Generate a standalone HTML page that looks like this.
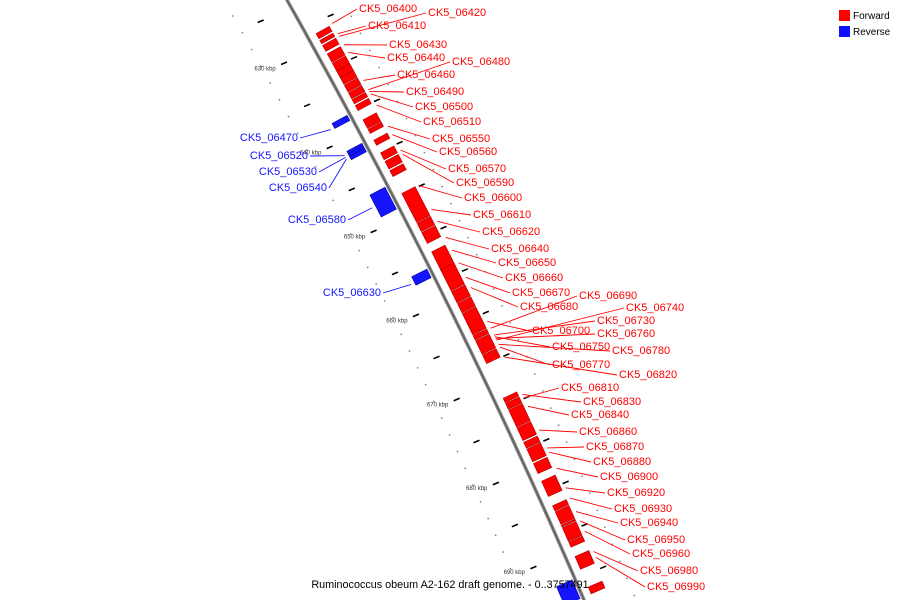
<!DOCTYPE html>
<html><head><meta charset="utf-8"><style>
html,body{margin:0;padding:0;background:#fff;width:900px;height:600px;overflow:hidden;}
svg{display:block;font-family:"Liberation Sans",sans-serif;}
</style></head><body>
<svg id="chart" width="900" height="600" viewBox="0 0 900 600">
<g id="bg"></g>
<g id="genes"></g>
<g id="labels"></g>
<g>
<rect x="839" y="10" width="11" height="11" fill="#ff0000"/>
<text x="853" y="19" font-size="10" fill="#000">Forward</text>
<rect x="839" y="26" width="11" height="11" fill="#1010ff"/>
<text x="853" y="35" font-size="10" fill="#000">Reverse</text>
</g>
<text x="450" y="588" font-size="10.8" text-anchor="middle" fill="#000">Ruminococcus obeum A2-162 draft genome. - 0..3757491</text>
</svg>
<script>
// gene extents in kbp (start, end)
const fwdStart=[626.8,627.6,628.2,629.2,630.3,631.2,632.0,632.9,633.8,634.6,635.3,637.0,638.1,639.4,640.9,641.9,643.0,645.7,649.2,650.3,652.6,654.7,657.3,658.7,659.9,662.5,663.1,664.8,669.9,670.5,671.3,673.4,675.1,675.9,677.6,679.7,682.6,683.3,684.9,685.2,686.9,688.6,692.2];
const fwdEnd=[627.4,628.0,628.9,630.2,631.2,632.0,632.8,633.7,634.5,635.1,635.9,638.0,638.6,640.0,641.7,642.8,643.7,649.1,650.2,651.6,655.0,657.2,658.6,659.8,662.4,663.0,664.7,665.8,670.4,671.2,673.3,674.9,675.8,677.4,678.8,681.5,683.2,684.8,685.1,686.8,687.5,690.1,693.0];
const revStart=[635.8,639.1,639.4,639.7,644.3,654.0,690.8];
const revEnd=[636.4,639.4,639.7,640.1,646.9,655.0,693.0];
// tick labels (kbp)
const tickKbp=[630,640,650,660,670,680,690];
// labels
const fwdNames=["CK5_06400","CK5_06420","CK5_06410","CK5_06430","CK5_06440","CK5_06480","CK5_06460","CK5_06490","CK5_06500","CK5_06510","CK5_06550","CK5_06560","CK5_06570","CK5_06590","CK5_06600","CK5_06610","CK5_06620","CK5_06640","CK5_06650","CK5_06660","CK5_06670","CK5_06690","CK5_06680","CK5_06740","CK5_06730","CK5_06700","CK5_06760","CK5_06750","CK5_06780","CK5_06770","CK5_06820","CK5_06810","CK5_06830","CK5_06840","CK5_06860","CK5_06870","CK5_06880","CK5_06900","CK5_06920","CK5_06930","CK5_06940","CK5_06950","CK5_06960","CK5_06980","CK5_06990"];
const fwdLabelX=[359,428,368,389,387,452,397,406,415,423,432,439,448,456,464,473,482,491,498,505,512,579,520,626,597,532,597,552,612,552,619,561,583,571,579,586,593,600,607,614,620,627,632,640,647];
const fwdLabelY=[8,12,25,44,57,61,74,91,106,121,138,151,168,182,197,214,231,248,262,277,292,295,306,307,320,330,333,346,350,364,374,387,401,414,431,446,461,476,492,508,522,539,553,570,586];
const fwdTargetKbp=[626.7,628.2,627.9,629.2,630.1,634.5,633.4,634.7,635.0,636.3,638.8,639.8,641.6,642.1,645.8,648.6,650.0,651.9,653.4,654.9,656.6,662.6,657.8,664.0,663.4,661.8,663.8,663.6,664.5,664.8,666.0,670.8,670.4,671.8,674.6,676.7,677.2,679.1,681.4,682.6,684.2,685.3,686.5,688.9,689.6];
const revNames=["CK5_06470","CK5_06520","CK5_06530","CK5_06540","CK5_06580","CK5_06630"];
const revLabelX=[298,308,317,327,346,381];
const revLabelY=[137,155,171,187,219,292];
const revTargetKbp=[636.3,639.4,639.6,639.8,645.6,654.7];

const NS='http://www.w3.org/2000/svg';
function ky(k){return 65+(k-630)*8.45;}
function bx(y){return 287+0.5625*y-0.0001125*y*y;}
function pt(k,off){const y=ky(k);const s=0.5625-0.000225*y;const n=Math.sqrt(1+s*s);return [bx(y)+off/n,y-off*s/n];}
function mk(tag,attrs,parent){const e=document.createElementNS(NS,tag);for(const a in attrs)e.setAttribute(a,attrs[a]);parent.appendChild(e);return e;}
const bg=document.getElementById('bg'),genes=document.getElementById('genes'),labels=document.getElementById('labels');

let d='';for(let y=-10;y<=610;y+=10){d+=(y<0?'M':'L')+bx(y).toFixed(1)+','+y;}
const bb=mk('path',{d:d,stroke:'#888',fill:'none','stroke-width':3.5},bg);


const bb2=mk('path',{d:d,stroke:'#555',fill:'none','stroke-width':1},bg);



for(let k=623;k<=695;k+=2){
  const a=pt(k-2,-55),b=pt(k,48);
  const c1=mk('circle',{cx:a[0],cy:a[1],r:0.9,fill:'#888'},bg);
  
  
  const c2=mk('circle',{cx:b[0],cy:b[1],r:0.9,fill:'#888'},bg);
  
  
}
for(let k=625;k<=695;k+=5){
  const a=pt(k-2,-34);
  const l=mk('line',{x1:a[0]-3,y1:a[1],x2:a[0]+3,y2:a[1]-2.5,stroke:'#000','stroke-width':1.6},bg);
  
  
  const r=pt(k+1,30);
  const l2=mk('line',{x1:r[0]-3,y1:r[1],x2:r[0]+3,y2:r[1]-2.5,stroke:'#000','stroke-width':1.6},bg);
  
  
}
tickKbp.forEach(k=>{
  const a=pt(k-2,-40);
  const t=mk('text',{x:a[0]-3,y:a[1]+3,'font-size':6,'text-anchor':'end',fill:'#333'},bg);
  t.textContent=k+' kbp';
  
  
});

function gene(s,e,o1,o2,fill,dark,name){
  const p1=pt(s,o1),p2=pt(e,o1),p3=pt(e,o2),p4=pt(s,o2);
  const g=mk('polygon',{points:[p1,p2,p3,p4].map(p=>p.join(',')).join(' '),fill:fill,stroke:dark,'stroke-width':0.6},genes);
  
  
}
fwdStart.forEach((s,i)=>gene(s,fwdEnd[i],9,24,'#ff0000','#b00000','forward-gene'));
revStart.forEach((s,i)=>gene(s,revEnd[i],-3,-20,'#1414ff','#0000a0','reverse-gene'));

function label(name,x,y,k,right,color){
  const tgt=pt(k,right?28:-24);
  const ln=mk('line',{x1:right?x-2:x+2,y1:y+1,x2:tgt[0],y2:tgt[1],stroke:color,'stroke-width':0.9},labels);
  
  
  const t=mk('text',{x:x,y:y+4,'font-size':11,fill:color,'text-anchor':right?'start':'end'},labels);
  t.textContent=name;
  
  
}
fwdNames.forEach((n,i)=>label(n,fwdLabelX[i],fwdLabelY[i],fwdTargetKbp[i],true,'#ff0000'));
revNames.forEach((n,i)=>label(n,revLabelX[i],revLabelY[i],revTargetKbp[i],false,'#1414ff'));
</script>
</body></html>
